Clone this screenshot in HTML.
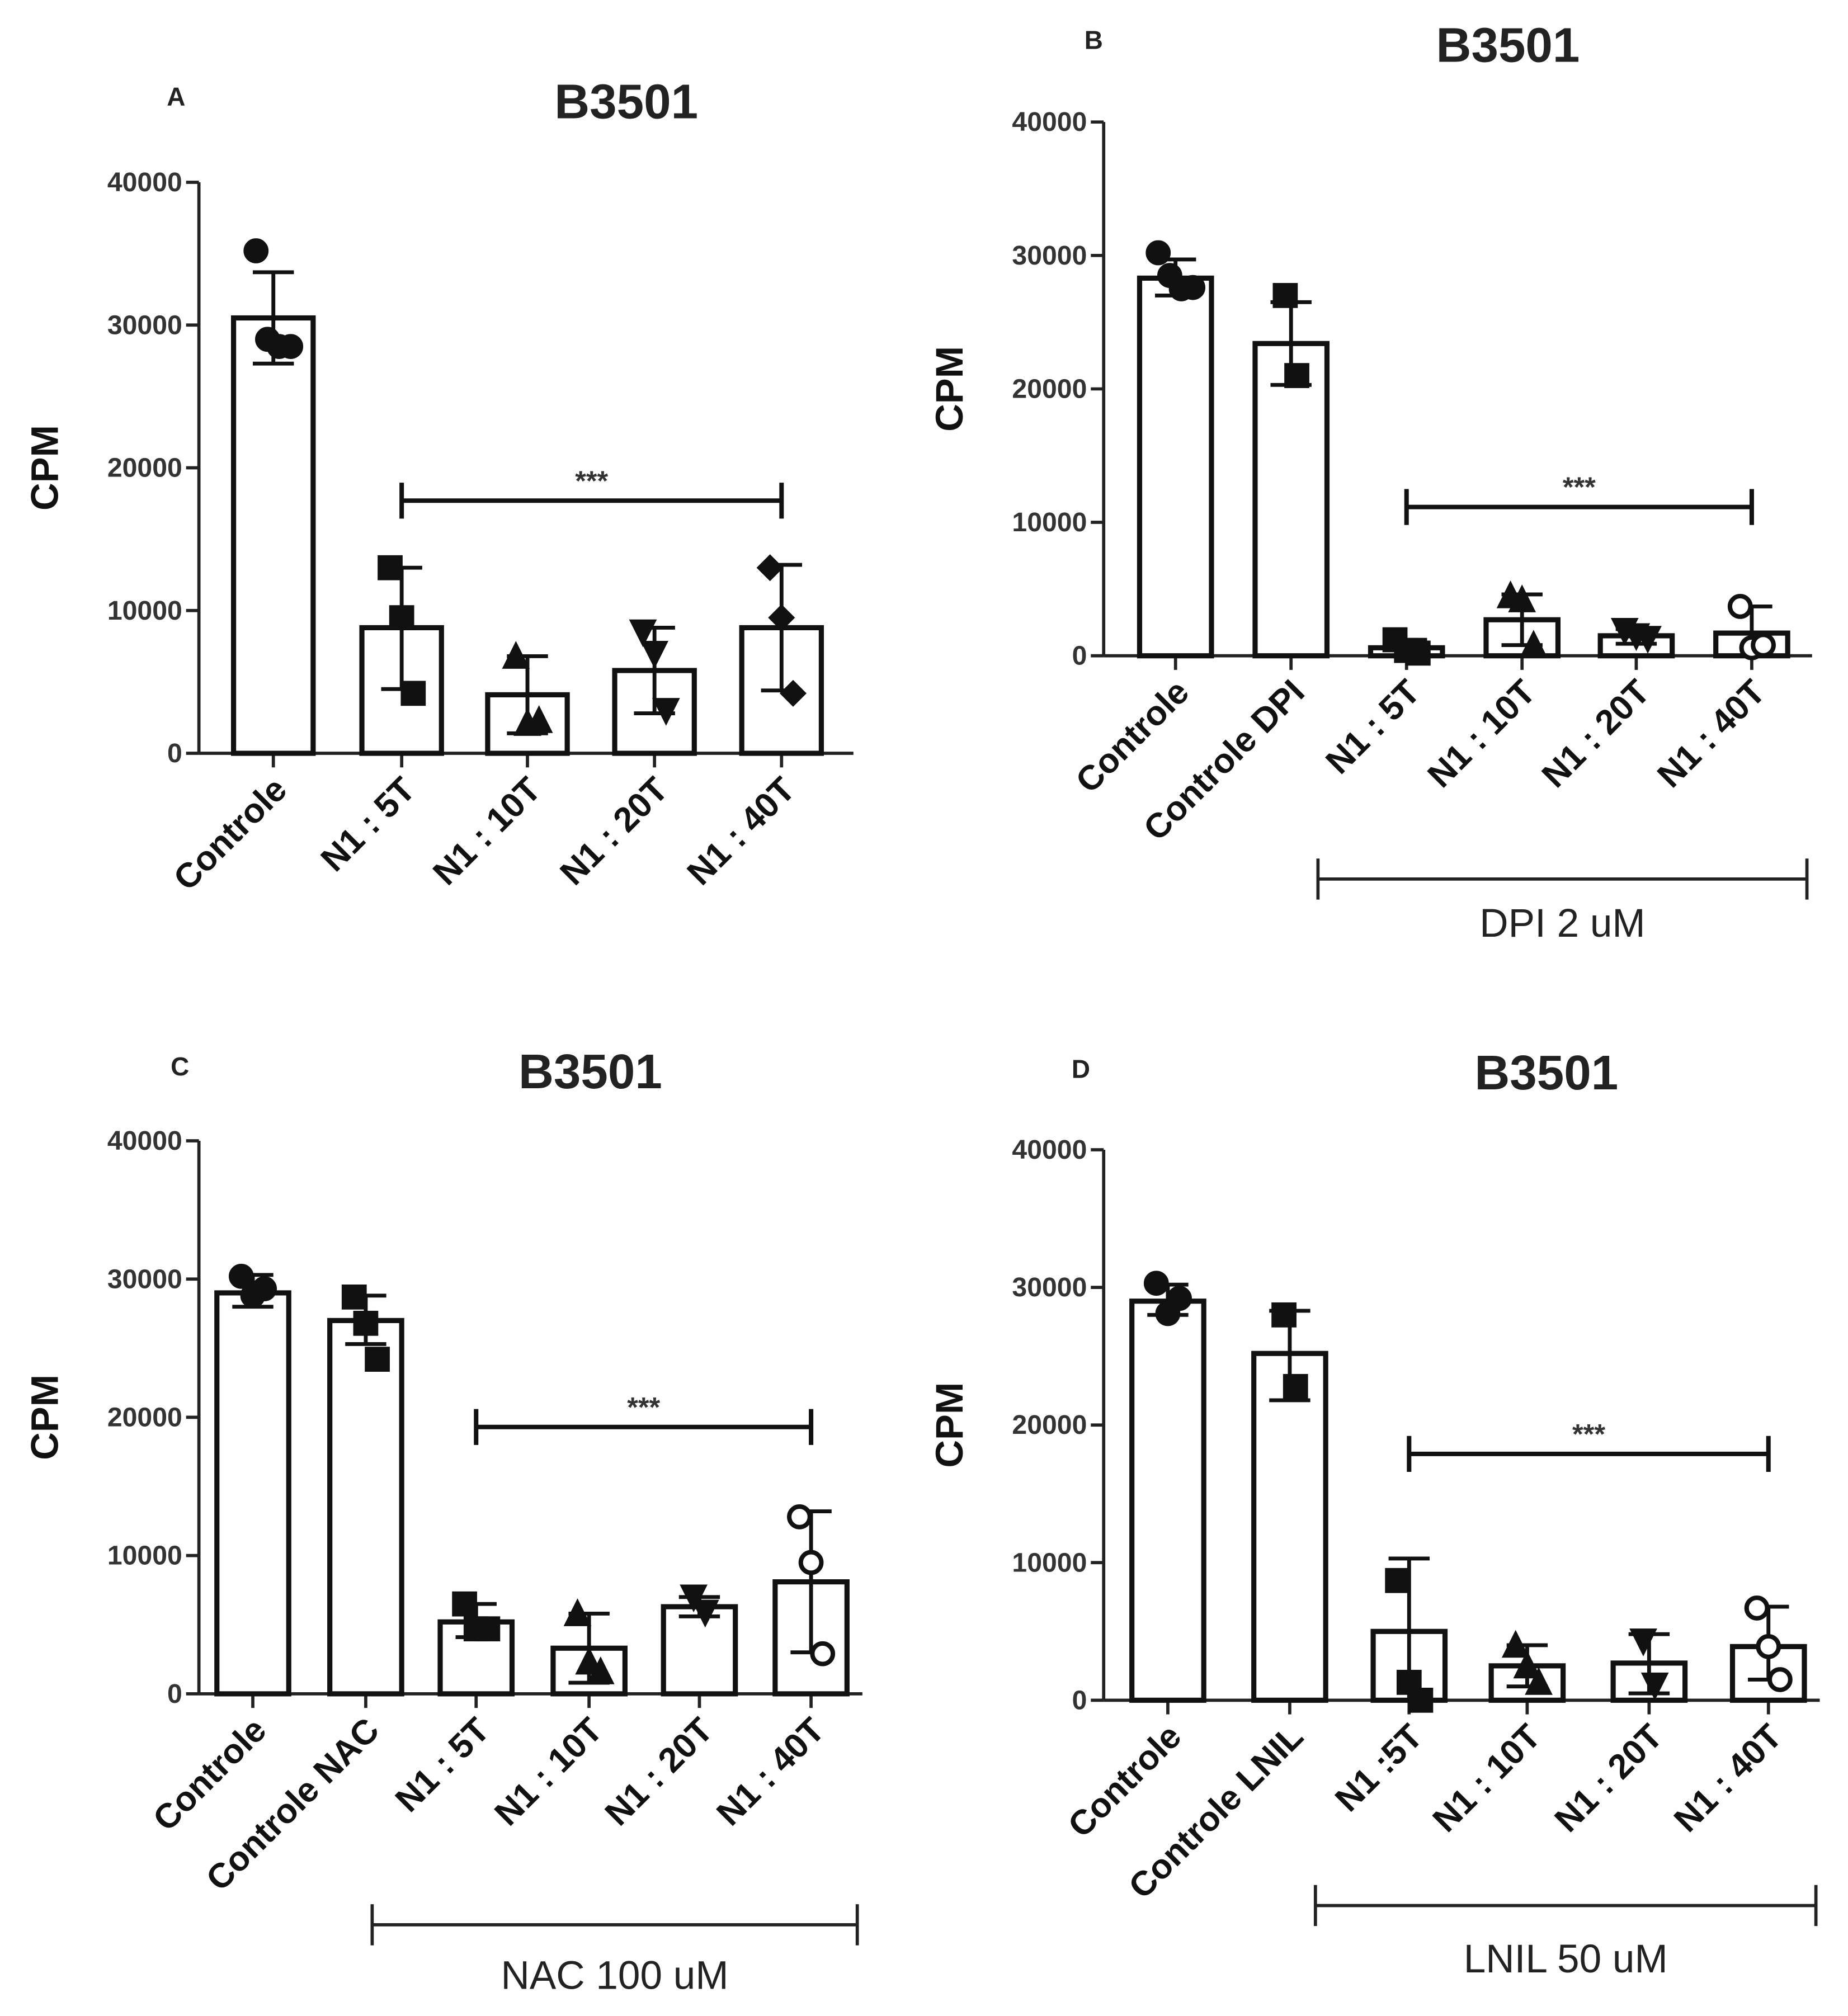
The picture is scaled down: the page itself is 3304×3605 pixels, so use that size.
<!DOCTYPE html>
<html><head><meta charset="utf-8">
<style>html,body{margin:0;padding:0;background:#fff}svg{display:block}text{font-family:"Liberation Sans",sans-serif}</style>
</head><body>
<svg id="fig" width="3304" height="3605" viewBox="0 0 1440 1571" xmlns="http://www.w3.org/2000/svg"></svg>
<script>
const yTicks=[0,10000,20000,30000,40000];
const catsA=["Controle","N1 : 5T","N1 : 10T","N1 : 20T","N1 : 40T"];
const meansA=[30500,8800,4100,5800,8800];
const lowA=[27300,4500,1400,2800,4400];
const highA=[33700,13000,6800,8800,13200];
const ptsA=[[35200,29000,28500,28500],[13000,9500,4200],[6800,2100,2300],[8500,7000,3000],[13000,9500,4200]];
const catsB=["Controle","Controle DPI","N1 : 5T","N1 : 10T","N1 : 20T","N1 : 40T"];
const meansB=[28300,23400,600,2700,1500,1700];
const lowB=[27000,20300,0,800,900,0];
const highB=[29700,26500,1200,4600,2000,3700];
const ptsB=[[30200,28500,27500,27600],[27000,21000],[1200,400,200],[4500,4200,800],[1900,1500,1300],[3700,600,800]];
const catsC=["Controle","Controle NAC","N1 : 5T","N1 : 10T","N1 : 20T","N1 : 40T"];
const meansC=[29000,27000,5200,3300,6300,8100];
const lowC=[28000,25300,4100,800,5600,3000];
const highC=[30300,28800,6500,5800,7000,13200];
const ptsC=[[30200,28800,29300],[28700,26800,24200],[6500,4700,4700],[5800,2300,1600],[7000,5900],[12800,9500,2900]];
const catsD=["Controle","Controle LNIL","N1 :5T","N1 : 10T","N1 : 20T","N1 : 40T"];
const meansD=[29000,25200,5000,2500,2700,3900];
const lowD=[28000,21800,0,1000,500,1500];
const highD=[30200,28300,10300,4000,4800,6800];
const ptsD=[[30300,28100,29200],[28000,22800],[8700,1300,0],[4000,2500,1300],[4300,1100],[6700,3900,1500]];
const sigA=17700, sigB=11150, sigC=19300, sigD=17900;

const NS="http://www.w3.org/2000/svg";
const svg=document.getElementById('fig');
function mk(tag,attrs,parent,txt){const e=document.createElementNS(NS,tag);for(const k in attrs)e.setAttribute(k,attrs[k]);if(txt!==undefined)e.textContent=txt;(parent||svg).appendChild(e);return e;}

const panels=[
 {id:'a',letter:'A',lx:130,ly:82,tx:488,ty:92,ax:155,y0:587,y40:142,xs:[213,313,411,510,609],bw:62,xend:665,cats:catsA,m:meansA,lo:lowA,hi:highA,p:ptsA,sig:sigA,sigFrom:1,sigTo:4,grp:null},
 {id:'b',letter:'B',lx:845,ly:38,tx:1175,ty:48,ax:860,y0:511,y40:95,xs:[916,1006,1096,1186,1275,1365],bw:56,xend:1412,cats:catsB,m:meansB,lo:lowB,hi:highB,p:ptsB,sig:sigB,sigFrom:2,sigTo:5,grp:{y:685,x1:1027,x2:1408,label:"DPI 2 uM",ty:730}},
 {id:'c',letter:'C',lx:133,ly:838,tx:460,ty:848,ax:155,y0:1320,y40:889,xs:[197,285,371,459,545,632],bw:56,xend:672,cats:catsC,m:meansC,lo:lowC,hi:highC,p:ptsC,sig:sigC,sigFrom:2,sigTo:5,grp:{y:1500,x1:290,x2:668,label:"NAC 100 uM",ty:1550}},
 {id:'d',letter:'D',lx:835,ly:840,tx:1205,ty:849,ax:860,y0:1325,y40:896,xs:[910,1005,1098,1190,1285,1378],bw:56,xend:1418,cats:catsD,m:meansD,lo:lowD,hi:highD,p:ptsD,sig:sigD,sigFrom:2,sigTo:5,grp:{y:1485,x1:1025,x2:1415,label:"LNIL 50 uM",ty:1537}}
];

panels.forEach(P=>{
 const g=mk('g',{});
 
 
 const Y=v=>P.y0-(v/40000)*(P.y0-P.y40);
 const t1=mk('text',{x:P.lx,y:P.ly,'font-size':20,'font-weight':'bold',fill:'#222'},g,P.letter);
 
 const t2=mk('text',{x:P.tx,y:P.ty,'font-size':38,'font-weight':'bold','text-anchor':'middle',fill:'#222'},g,'B3501');
 
 const yl=mk('text',{x:0,y:0,'font-size':30,'font-weight':'bold','text-anchor':'middle',fill:'#111',transform:`translate(${P.ax-110},${(P.y0+P.y40)/2}) rotate(-90)`},g,'CPM');
 
 const ya=mk('line',{x1:P.ax,y1:P.y40,x2:P.ax,y2:P.y0,stroke:'#222','stroke-width':2.5},g);
 
 yTicks.forEach(v=>{
  mk('line',{x1:P.ax-10,y1:Y(v),x2:P.ax,y2:Y(v),stroke:'#222','stroke-width':2.5},g);
  const tl=mk('text',{x:P.ax-13,y:Y(v)+7,'font-size':21,'font-weight':'bold','text-anchor':'end',fill:'#333'},g,String(v));
  
 });
 const xa=mk('line',{x1:P.ax,y1:P.y0,x2:P.xend,y2:P.y0,stroke:'#222','stroke-width':2.5},g);
 
 P.cats.forEach((c,i)=>{
  const x=P.xs[i];
  mk('line',{x1:x,y1:P.y0,x2:x,y2:P.y0+11,stroke:'#222','stroke-width':2.5},g);
  const cl=mk('text',{x:0,y:0,'font-size':27,'font-weight':'bold','text-anchor':'end',fill:'#111',transform:`translate(${x+12},${P.y0+30}) rotate(-45)`},g,c);
  
  const b=mk('rect',{x:x-P.bw/2,y:Y(P.m[i]),width:P.bw,height:P.y0-Y(P.m[i]),fill:'#fff',stroke:'#111','stroke-width':4},g);
  
  const eb=mk('g',{stroke:'#111','stroke-width':3},g);
  
  mk('line',{x1:x,y1:Y(P.hi[i]),x2:x,y2:Y(P.lo[i])},eb);
  mk('line',{x1:x-16,y1:Y(P.hi[i]),x2:x+16,y2:Y(P.hi[i])},eb);
  mk('line',{x1:x-16,y1:Y(P.lo[i]),x2:x+16,y2:Y(P.lo[i])},eb);
  P.p[i].forEach((v,j)=>{
   const px=x+(j-(P.p[i].length-1)/2)*9, py=Y(v), s=8;
   let e; const open=(i===P.cats.length-1&&P.id!=='a');
   const st={fill:open?'#fff':'#111',stroke:'#111','stroke-width':3.5};
   const shape=(P.id==='a')?i:(i<2?i:i-1);
   if(shape===0||open) e=mk('circle',Object.assign({cx:px,cy:py,r:s},st),g);
   else if(shape===1) e=mk('rect',Object.assign({x:px-s,y:py-s,width:2*s,height:2*s},st),g);
   else if(shape===2) e=mk('polygon',Object.assign({points:`${px},${py-s} ${px-s},${py+s} ${px+s},${py+s}`},st),g);
   else if(shape===3) e=mk('polygon',Object.assign({points:`${px},${py+s} ${px-s},${py-s} ${px+s},${py-s}`},st),g);
   else e=mk('polygon',Object.assign({points:`${px},${py-s} ${px+s},${py} ${px},${py+s} ${px-s},${py}`},st),g);
   
   
  });
 });
 const sy=Y(P.sig), x1=P.xs[P.sigFrom], x2=P.xs[P.sigTo];
 const sg=mk('g',{stroke:'#111','stroke-width':3.5},g);
 
 mk('line',{x1:x1,y1:sy,x2:x2,y2:sy},sg);
 mk('line',{x1:x1,y1:sy-14,x2:x1,y2:sy+14},sg);
 mk('line',{x1:x2,y1:sy-14,x2:x2,y2:sy+14},sg);
 const st=mk('text',{x:(x1+x2)/2,y:sy-8,'font-size':22,'font-weight':'bold','text-anchor':'middle',fill:'#333'},g,'***');
 
 if(P.grp){
  const gg=mk('g',{stroke:'#222','stroke-width':2.5},g);
  
  mk('line',{x1:P.grp.x1,y1:P.grp.y,x2:P.grp.x2,y2:P.grp.y},gg);
  mk('line',{x1:P.grp.x1,y1:P.grp.y-16,x2:P.grp.x1,y2:P.grp.y+16},gg);
  mk('line',{x1:P.grp.x2,y1:P.grp.y-16,x2:P.grp.x2,y2:P.grp.y+16},gg);
  const gl=mk('text',{x:(P.grp.x1+P.grp.x2)/2,y:P.grp.ty,'font-size':31,'text-anchor':'middle',fill:'#222'},g,P.grp.label);
  
 }
});
</script>
</body></html>
